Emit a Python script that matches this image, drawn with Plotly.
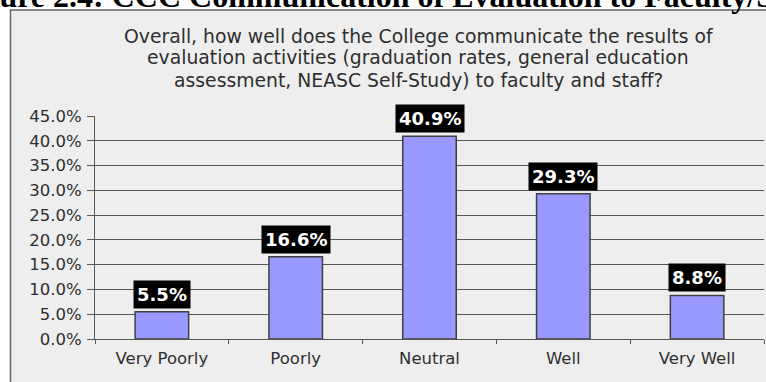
import plotly.graph_objects as go

# ---- data ----
categories = ["Very Poorly", "Poorly", "Neutral", "Well", "Very Well"]
values = [5.5, 16.6, 40.9, 29.3, 8.8]
value_labels = ["5.5%", "16.6%", "40.9%", "29.3%", "8.8%"]
y_ticks = [0, 5, 10, 15, 20, 25, 30, 35, 40, 45]
y_tick_labels = ["0.0%", "5.0%", "10.0%", "15.0%", "20.0%", "25.0%", "30.0%", "35.0%", "40.0%", "45.0%"]
title_lines = [
    "Overall, how well does the College communicate the results of",
    "evaluation activities (graduation rates, general education",
    "assessment, NEASC Self-Study) to faculty and staff?",
]
figure_title = "Figure 2.4: CCC Communication of Evaluation to Faculty/Staff"

# ---- layout geometry (pixels) ----
W, H = 766, 382
L, R, T, B = 95, 2, 116, 43
PW, PH = W - L - R, H - T - B


def px_x(p):
    return (p - L) / PW


def px_y(p):
    return (H - B - p) / PH


FONT = "DejaVu Sans"
GRID = "#555555"
TXT = "#2e2e2e"

fig = go.Figure()
fig.add_trace(go.Bar(
    x=categories, y=values,
    marker=dict(color="#9999FF", line=dict(color="#404040", width=1.5)),
    hoverinfo="skip",
))

annotations = []
for c, v, lab in zip(categories, values, value_labels):
    annotations.append(dict(
        x=c, y=v, xref="x", yref="y", text=lab, showarrow=False,
        yanchor="bottom", yshift=3,
        font=dict(family=FONT, size=18, color="white", weight="bold"),
        bgcolor="black", borderpad=3,
    ))

title_y = [36, 58, 80]
for line, yy in zip(title_lines, title_y):
    annotations.append(dict(
        x=px_x(418), y=px_y(yy), xref="paper", yref="paper", text=line,
        showarrow=False, xanchor="center", yanchor="middle",
        font=dict(family=FONT, size=18.8, color=TXT),
    ))

annotations.append(dict(
    x=px_x(-47), y=px_y(-4), xref="paper", yref="paper",
    text="<b>" + figure_title + "</b>", showarrow=False,
    xanchor="left", yanchor="middle",
    font=dict(family="Liberation Serif", size=32, color="black"),
))

fig.update_layout(
    width=W, height=H,
    margin=dict(l=L, r=R, t=T, b=B, pad=0),
    paper_bgcolor="white",
    plot_bgcolor="rgba(0,0,0,0)",
    showlegend=False,
    bargap=0.6,
    annotations=annotations,
    shapes=[dict(
        type="rect", xref="paper", yref="paper",
        x0=px_x(10.5), x1=px_x(790), y0=px_y(10), y1=px_y(400),
        fillcolor="#EEEEEE", line=dict(color="#666666", width=1.5), layer="below",
    )],
    xaxis=dict(
        showgrid=False, showline=True, linecolor=GRID, linewidth=1,
        ticks="outside", tickson="boundaries", ticklen=4, tickcolor=GRID,
        ticklabelstandoff=4,
        tickfont=dict(family=FONT, size=16.5, color=TXT),
    ),
    yaxis=dict(
        range=[0, 45], tickvals=y_ticks, ticktext=y_tick_labels,
        showgrid=True, gridcolor=GRID, gridwidth=1,
        showline=True, linecolor=GRID, linewidth=1,
        ticks="outside", ticklen=7, tickcolor=GRID,
        ticklabelstandoff=2,
        tickfont=dict(family=FONT, size=16.5, color=TXT),
        zeroline=False,
    ),
)

fig.write_html("out.html")
